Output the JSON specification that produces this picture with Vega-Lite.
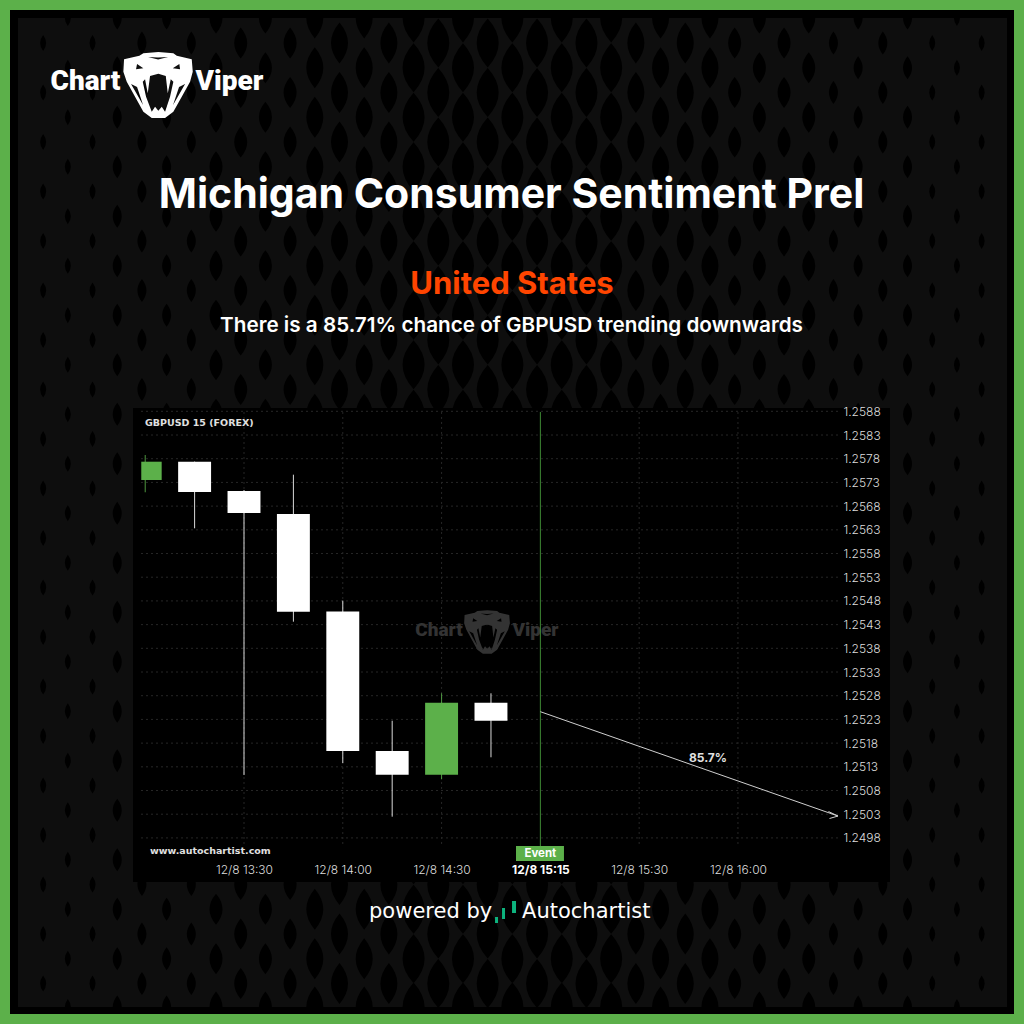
{
  "$schema": "https://vega.github.io/schema/vega-lite/v6.json",
  "width": 757,
  "height": 474,
  "autosize": {"type": "none"},
  "padding": {"left": 133, "top": 408, "right": 134, "bottom": 142},
  "background": "#5cb04a",
  "config": {"view": {"stroke": null}},
  "title": {
    "text": "Michigan Consumer Sentiment Prel",
    "subtitle": "There is a 85.71% chance of GBPUSD trending downwards",
    "anchor": "middle",
    "frame": "group",
    "offset": -327,
    "color": "#ffffff",
    "font": "Inter",
    "fontSize": 41,
    "fontWeight": 700,
    "subtitleColor": "#ffffff",
    "subtitleFont": "Inter",
    "subtitleFontSize": 20.7,
    "subtitleFontWeight": 600,
    "subtitlePadding": 99
  },
  "datasets": {
    "candles": [
      {"t": "2023-12-08T13:00:00Z", "start": "2023-12-08T12:58:48Z", "end": "2023-12-08T13:05:00Z", "dir": "up", "open": 1.257351, "high": 1.257878, "low": 1.257092, "close": 1.257737},
      {"t": "2023-12-08T13:15:00Z", "start": "2023-12-08T13:10:00Z", "end": "2023-12-08T13:20:00Z", "dir": "down", "open": 1.257737, "high": 1.25774, "low": 1.256332, "close": 1.257098},
      {"t": "2023-12-08T13:30:00Z", "start": "2023-12-08T13:25:00Z", "end": "2023-12-08T13:35:00Z", "dir": "down", "open": 1.257119, "high": 1.25714, "low": 1.251127, "close": 1.256655},
      {"t": "2023-12-08T13:45:00Z", "start": "2023-12-08T13:40:00Z", "end": "2023-12-08T13:50:00Z", "dir": "down", "open": 1.256634, "high": 1.257463, "low": 1.254362, "close": 1.254573},
      {"t": "2023-12-08T14:00:00Z", "start": "2023-12-08T13:55:00Z", "end": "2023-12-08T14:05:00Z", "dir": "down", "open": 1.254577, "high": 1.254805, "low": 1.251381, "close": 1.251634},
      {"t": "2023-12-08T14:15:00Z", "start": "2023-12-08T14:10:00Z", "end": "2023-12-08T14:20:00Z", "dir": "down", "open": 1.251634, "high": 1.252273, "low": 1.250248, "close": 1.251134},
      {"t": "2023-12-08T14:30:00Z", "start": "2023-12-08T14:25:00Z", "end": "2023-12-08T14:35:00Z", "dir": "up", "open": 1.251134, "high": 1.252851, "low": 1.251037, "close": 1.252653},
      {"t": "2023-12-08T14:45:00Z", "start": "2023-12-08T14:40:00Z", "end": "2023-12-08T14:50:00Z", "dir": "down", "open": 1.252653, "high": 1.252851, "low": 1.251501, "close": 1.252273}
    ],
    "event": [
      {"t": "2023-12-08T15:00:00Z", "label": "Event", "start": "2023-12-08T14:52:36Z", "end": "2023-12-08T15:07:10Z", "lineTop": 1.258786, "lineBottom": 1.24963, "boxBottom": 1.249313, "labelAt": 1.249461}
    ],
    "forecast": [
      {"t": "2023-12-08T15:00:00Z", "price": 1.252463},
      {"t": "2023-12-08T16:30:23Z", "price": 1.250262}
    ],
    "timeGrid": [
      {"t": "2023-12-08T13:30:00Z"},
      {"t": "2023-12-08T14:00:00Z"},
      {"t": "2023-12-08T14:30:00Z"},
      {"t": "2023-12-08T15:30:00Z"},
      {"t": "2023-12-08T16:00:00Z"}
    ],
    "priceGrid": [
      {"p": 1.2498}, {"p": 1.2503}, {"p": 1.2508}, {"p": 1.2513}, {"p": 1.2518},
      {"p": 1.2523}, {"p": 1.2528}, {"p": 1.2533}, {"p": 1.2538}, {"p": 1.2543},
      {"p": 1.2548}, {"p": 1.2553}, {"p": 1.2558}, {"p": 1.2563}, {"p": 1.2568},
      {"p": 1.2573}, {"p": 1.2578}, {"p": 1.2583}, {"p": 1.2588}
    ],
    "pattern": [
      {"t": "2023-12-08T12:29:00Z", "c": "e1"}, {"t": "2023-12-08T12:36:30Z", "c": "o1"},
      {"t": "2023-12-08T12:44:00Z", "c": "e1"}, {"t": "2023-12-08T12:51:30Z", "c": "o2"},
      {"t": "2023-12-08T12:59:00Z", "c": "e2"}, {"t": "2023-12-08T13:06:30Z", "c": "o2"},
      {"t": "2023-12-08T13:14:00Z", "c": "e2"}, {"t": "2023-12-08T13:21:30Z", "c": "o3"},
      {"t": "2023-12-08T13:29:00Z", "c": "e3"}, {"t": "2023-12-08T13:36:30Z", "c": "o3"},
      {"t": "2023-12-08T13:44:00Z", "c": "e3"}, {"t": "2023-12-08T13:51:30Z", "c": "o4"},
      {"t": "2023-12-08T13:59:00Z", "c": "e4"}, {"t": "2023-12-08T14:06:30Z", "c": "o4"},
      {"t": "2023-12-08T14:14:00Z", "c": "e4"}, {"t": "2023-12-08T14:21:30Z", "c": "o5"},
      {"t": "2023-12-08T14:29:00Z", "c": "e5"}, {"t": "2023-12-08T14:36:30Z", "c": "o5"},
      {"t": "2023-12-08T14:44:00Z", "c": "e5"}, {"t": "2023-12-08T14:51:30Z", "c": "o5"},
      {"t": "2023-12-08T14:59:00Z", "c": "e5"}, {"t": "2023-12-08T15:06:30Z", "c": "o5"},
      {"t": "2023-12-08T15:14:00Z", "c": "e5"}, {"t": "2023-12-08T15:21:30Z", "c": "o5"},
      {"t": "2023-12-08T15:29:00Z", "c": "e4"}, {"t": "2023-12-08T15:36:30Z", "c": "o4"},
      {"t": "2023-12-08T15:44:00Z", "c": "e4"}, {"t": "2023-12-08T15:51:30Z", "c": "o4"},
      {"t": "2023-12-08T15:59:00Z", "c": "e3"}, {"t": "2023-12-08T16:06:30Z", "c": "o3"},
      {"t": "2023-12-08T16:14:00Z", "c": "e3"}, {"t": "2023-12-08T16:21:30Z", "c": "o3"},
      {"t": "2023-12-08T16:29:00Z", "c": "e2"}, {"t": "2023-12-08T16:36:30Z", "c": "o2"},
      {"t": "2023-12-08T16:44:00Z", "c": "e2"}, {"t": "2023-12-08T16:51:30Z", "c": "o2"},
      {"t": "2023-12-08T16:59:00Z", "c": "e1"}, {"t": "2023-12-08T17:06:30Z", "c": "o1"},
      {"t": "2023-12-08T17:14:00Z", "c": "e1"}
    ]
  },
  "layer": [
    {
      "data": {"values": [{}]},
      "mark": {"type": "rect", "color": "#000000"},
      "encoding": {
        "x": {
          "datum": 1702037936380, "type": "temporal",
          "scale": {"type": "utc", "domain": [1702040177500, 1702053970500], "nice": false},
          "axis": {
            "orient": "bottom", "title": null, "offset": -20, "domain": false, "ticks": false, "grid": false, "zindex": 1,
            "values": [1702042200000, 1702044000000, 1702045800000, 1702047600000, 1702049400000, 1702051200000],
            "labelExpr": "time(datum.value) == 1702047600000 ? '12/8 15:15' : utcFormat(datum.value, '%-m/%-d %H:%M')",
            "labelFont": "Inter", "labelFontSize": 12, "labelPadding": 2, "labelOverlap": false, "labelFlush": false, "labelBound": false,
            "labelFontWeight": {"condition": {"test": "time(datum.value) == 1702047600000", "value": "bold"}, "value": 300},
            "labelColor": {"condition": {"test": "time(datum.value) == 1702047600000", "value": "#ffffff"}, "value": "#dddddd"}
          }
        },
        "x2": {"datum": 1702056229862},
        "y": {
          "datum": 1.267267, "type": "quantitative",
          "scale": {"domain": [1.24887, 1.25887], "nice": false, "zero": false},
          "axis": {
            "orient": "right", "title": null, "offset": -53, "domain": false, "ticks": false, "grid": false, "zindex": 1, "tickCount": 100,
            "values": [1.2498, 1.2503, 1.2508, 1.2513, 1.2518, 1.2523, 1.2528, 1.2533, 1.2538, 1.2543, 1.2548, 1.2553, 1.2558, 1.2563, 1.2568, 1.2573, 1.2578, 1.2583, 1.2588],
            "format": ".4f", "labelFont": "Inter", "labelFontSize": 12, "labelFontWeight": 300, "labelColor": "#dddddd", "labelPadding": 6, "labelOverlap": false, "labelFlush": false, "labelBound": false
          }
        },
        "y2": {"datum": 1.246085}
      }
    },
    {
      "data": {"values": [{}]},
      "mark": {"type": "rect", "color": "#0e0e0e"},
      "encoding": {
        "x": {"datum": 1702038082144, "type": "temporal"},
        "x2": {"datum": 1702056102318},
        "y": {"datum": 1.267098, "type": "quantitative"},
        "y2": {"datum": 1.246233}
      }
    },
    {
      "data": {"name": "pattern"},
      "transform": [{"filter": "datum.c == 'e1'"}],
      "mark": {"type": "point", "filled": true, "color": "#000000", "opacity": 1, "size": 4,
        "shape": "M0,17q-6,8 0,16q6,-8 0,-16zm0,49.5q-6,8 0,16q6,-8 0,-16zm0,49.5q-6,8 0,16q6,-8 0,-16zm0,49.5q-6,8 0,16q6,-8 0,-16zm0,49.5q-6,8 0,16q6,-8 0,-16zm0,49.5q-6,8 0,16q6,-8 0,-16zm0,49.5q-6,8 0,16q6,-8 0,-16zm0,49.5q-6,8 0,16q6,-8 0,-16zm0,49.5q-6,8 0,16q6,-8 0,-16zm0,49.5q-6,8 0,16q6,-8 0,-16zm0,49.5q-6,8 0,16q6,-8 0,-16zm0,49.5q-6,8 0,16q6,-8 0,-16zm0,49.5q-6,8 0,16q6,-8 0,-16zm0,49.5q-6,8 0,16q6,-8 0,-16zm0,49.5q-6,8 0,16q6,-8 0,-16zm0,49.5q-6,8 0,16q6,-8 0,-16zm0,49.5q-6,8 0,16q6,-8 0,-16zm0,49.5q-6,8 0,16q6,-8 0,-16zm0,49.5q-6,8 0,16q6,-8 0,-16zm0,49.5q-6,8 0,16q6,-8 0,-16z"},
      "encoding": {"x": {"field": "t", "type": "temporal"}, "y": {"datum": 1.267098, "type": "quantitative"}}
    },
    {
      "data": {"name": "pattern"},
      "transform": [{"filter": "datum.c == 'o1'"}],
      "mark": {"type": "point", "filled": true, "color": "#000000", "opacity": 1, "size": 4,
        "shape": "M-3,0Q-3,4 0,8Q3,4 3,0ZM0,41.7q-6,8 0,16q6,-8 0,-16zm0,49.5q-6,8 0,16q6,-8 0,-16zm0,49.5q-6,8 0,16q6,-8 0,-16zm0,49.5q-6,8 0,16q6,-8 0,-16zm0,49.5q-6,8 0,16q6,-8 0,-16zm0,49.5q-6,8 0,16q6,-8 0,-16zm0,49.5q-6,8 0,16q6,-8 0,-16zm0,49.5q-6,8 0,16q6,-8 0,-16zm0,49.5q-6,8 0,16q6,-8 0,-16zm0,49.5q-6,8 0,16q6,-8 0,-16zm0,49.5q-6,8 0,16q6,-8 0,-16zm0,49.5q-6,8 0,16q6,-8 0,-16zm0,49.5q-6,8 0,16q6,-8 0,-16zm0,49.5q-6,8 0,16q6,-8 0,-16zm0,49.5q-6,8 0,16q6,-8 0,-16zm0,49.5q-6,8 0,16q6,-8 0,-16zm0,49.5q-6,8 0,16q6,-8 0,-16zm0,49.5q-6,8 0,16q6,-8 0,-16zm0,49.5q-6,8 0,16q6,-8 0,-16zM-3,989Q-3,985 0,981Q3,985 3,989Z"},
      "encoding": {"x": {"field": "t", "type": "temporal"}, "y": {"datum": 1.267098, "type": "quantitative"}}
    },
    {
      "data": {"name": "pattern"},
      "transform": [{"filter": "datum.c == 'e2'"}],
      "mark": {"type": "point", "filled": true, "color": "#000000", "opacity": 1, "size": 4,
        "shape": "M0,13.5q-9,11.5 0,23q9,-11.5 0,-23zm0,49.5q-9,11.5 0,23q9,-11.5 0,-23zm0,49.5q-9,11.5 0,23q9,-11.5 0,-23zm0,49.5q-9,11.5 0,23q9,-11.5 0,-23zm0,49.5q-9,11.5 0,23q9,-11.5 0,-23zm0,49.5q-9,11.5 0,23q9,-11.5 0,-23zm0,49.5q-9,11.5 0,23q9,-11.5 0,-23zm0,49.5q-9,11.5 0,23q9,-11.5 0,-23zm0,49.5q-9,11.5 0,23q9,-11.5 0,-23zm0,49.5q-9,11.5 0,23q9,-11.5 0,-23zm0,49.5q-9,11.5 0,23q9,-11.5 0,-23zm0,49.5q-9,11.5 0,23q9,-11.5 0,-23zm0,49.5q-9,11.5 0,23q9,-11.5 0,-23zm0,49.5q-9,11.5 0,23q9,-11.5 0,-23zm0,49.5q-9,11.5 0,23q9,-11.5 0,-23zm0,49.5q-9,11.5 0,23q9,-11.5 0,-23zm0,49.5q-9,11.5 0,23q9,-11.5 0,-23zm0,49.5q-9,11.5 0,23q9,-11.5 0,-23zm0,49.5q-9,11.5 0,23q9,-11.5 0,-23zm0,49.5q-9,11.5 0,23q9,-11.5 0,-23z"},
      "encoding": {"x": {"field": "t", "type": "temporal"}, "y": {"datum": 1.267098, "type": "quantitative"}}
    },
    {
      "data": {"name": "pattern"},
      "transform": [{"filter": "datum.c == 'o2'"}],
      "mark": {"type": "point", "filled": true, "color": "#000000", "opacity": 1, "size": 4,
        "shape": "M-4.5,0Q-4.5,5.7 0,11.5Q4.5,5.7 4.5,0ZM0,38.2q-9,11.5 0,23q9,-11.5 0,-23zm0,49.5q-9,11.5 0,23q9,-11.5 0,-23zm0,49.5q-9,11.5 0,23q9,-11.5 0,-23zm0,49.5q-9,11.5 0,23q9,-11.5 0,-23zm0,49.5q-9,11.5 0,23q9,-11.5 0,-23zm0,49.5q-9,11.5 0,23q9,-11.5 0,-23zm0,49.5q-9,11.5 0,23q9,-11.5 0,-23zm0,49.5q-9,11.5 0,23q9,-11.5 0,-23zm0,49.5q-9,11.5 0,23q9,-11.5 0,-23zm0,49.5q-9,11.5 0,23q9,-11.5 0,-23zm0,49.5q-9,11.5 0,23q9,-11.5 0,-23zm0,49.5q-9,11.5 0,23q9,-11.5 0,-23zm0,49.5q-9,11.5 0,23q9,-11.5 0,-23zm0,49.5q-9,11.5 0,23q9,-11.5 0,-23zm0,49.5q-9,11.5 0,23q9,-11.5 0,-23zm0,49.5q-9,11.5 0,23q9,-11.5 0,-23zm0,49.5q-9,11.5 0,23q9,-11.5 0,-23zm0,49.5q-9,11.5 0,23q9,-11.5 0,-23zm0,49.5q-9,11.5 0,23q9,-11.5 0,-23zM-4.5,989Q-4.5,983.3 0,977.5Q4.5,983.3 4.5,989Z"},
      "encoding": {"x": {"field": "t", "type": "temporal"}, "y": {"datum": 1.267098, "type": "quantitative"}}
    },
    {
      "data": {"name": "pattern"},
      "transform": [{"filter": "datum.c == 'e3'"}],
      "mark": {"type": "point", "filled": true, "color": "#000000", "opacity": 1, "size": 4,
        "shape": "M0,9.5q-13,15.5 0,31q13,-15.5 0,-31zm0,49.5q-13,15.5 0,31q13,-15.5 0,-31zm0,49.5q-13,15.5 0,31q13,-15.5 0,-31zm0,49.5q-13,15.5 0,31q13,-15.5 0,-31zm0,49.5q-13,15.5 0,31q13,-15.5 0,-31zm0,49.5q-13,15.5 0,31q13,-15.5 0,-31zm0,49.5q-13,15.5 0,31q13,-15.5 0,-31zm0,49.5q-13,15.5 0,31q13,-15.5 0,-31zm0,49.5q-13,15.5 0,31q13,-15.5 0,-31zm0,49.5q-13,15.5 0,31q13,-15.5 0,-31zm0,49.5q-13,15.5 0,31q13,-15.5 0,-31zm0,49.5q-13,15.5 0,31q13,-15.5 0,-31zm0,49.5q-13,15.5 0,31q13,-15.5 0,-31zm0,49.5q-13,15.5 0,31q13,-15.5 0,-31zm0,49.5q-13,15.5 0,31q13,-15.5 0,-31zm0,49.5q-13,15.5 0,31q13,-15.5 0,-31zm0,49.5q-13,15.5 0,31q13,-15.5 0,-31zm0,49.5q-13,15.5 0,31q13,-15.5 0,-31zm0,49.5q-13,15.5 0,31q13,-15.5 0,-31zm0,49.5q-13,15.5 0,31q13,-15.5 0,-31z"},
      "encoding": {"x": {"field": "t", "type": "temporal"}, "y": {"datum": 1.267098, "type": "quantitative"}}
    },
    {
      "data": {"name": "pattern"},
      "transform": [{"filter": "datum.c == 'o3'"}],
      "mark": {"type": "point", "filled": true, "color": "#000000", "opacity": 1, "size": 4,
        "shape": "M-6.5,0Q-6.5,7.7 0,15.5Q6.5,7.7 6.5,0ZM0,34.2q-13,15.5 0,31q13,-15.5 0,-31zm0,49.5q-13,15.5 0,31q13,-15.5 0,-31zm0,49.5q-13,15.5 0,31q13,-15.5 0,-31zm0,49.5q-13,15.5 0,31q13,-15.5 0,-31zm0,49.5q-13,15.5 0,31q13,-15.5 0,-31zm0,49.5q-13,15.5 0,31q13,-15.5 0,-31zm0,49.5q-13,15.5 0,31q13,-15.5 0,-31zm0,49.5q-13,15.5 0,31q13,-15.5 0,-31zm0,49.5q-13,15.5 0,31q13,-15.5 0,-31zm0,49.5q-13,15.5 0,31q13,-15.5 0,-31zm0,49.5q-13,15.5 0,31q13,-15.5 0,-31zm0,49.5q-13,15.5 0,31q13,-15.5 0,-31zm0,49.5q-13,15.5 0,31q13,-15.5 0,-31zm0,49.5q-13,15.5 0,31q13,-15.5 0,-31zm0,49.5q-13,15.5 0,31q13,-15.5 0,-31zm0,49.5q-13,15.5 0,31q13,-15.5 0,-31zm0,49.5q-13,15.5 0,31q13,-15.5 0,-31zm0,49.5q-13,15.5 0,31q13,-15.5 0,-31zm0,49.5q-13,15.5 0,31q13,-15.5 0,-31zM-6.5,989Q-6.5,981.3 0,973.5Q6.5,981.3 6.5,989Z"},
      "encoding": {"x": {"field": "t", "type": "temporal"}, "y": {"datum": 1.267098, "type": "quantitative"}}
    },
    {
      "data": {"name": "pattern"},
      "transform": [{"filter": "datum.c == 'e4'"}],
      "mark": {"type": "point", "filled": true, "color": "#000000", "opacity": 1, "size": 4,
        "shape": "M0,4.5q-17,20.5 0,41q17,-20.5 0,-41zm0,49.5q-17,20.5 0,41q17,-20.5 0,-41zm0,49.5q-17,20.5 0,41q17,-20.5 0,-41zm0,49.5q-17,20.5 0,41q17,-20.5 0,-41zm0,49.5q-17,20.5 0,41q17,-20.5 0,-41zm0,49.5q-17,20.5 0,41q17,-20.5 0,-41zm0,49.5q-17,20.5 0,41q17,-20.5 0,-41zm0,49.5q-17,20.5 0,41q17,-20.5 0,-41zm0,49.5q-17,20.5 0,41q17,-20.5 0,-41zm0,49.5q-17,20.5 0,41q17,-20.5 0,-41zm0,49.5q-17,20.5 0,41q17,-20.5 0,-41zm0,49.5q-17,20.5 0,41q17,-20.5 0,-41zm0,49.5q-17,20.5 0,41q17,-20.5 0,-41zm0,49.5q-17,20.5 0,41q17,-20.5 0,-41zm0,49.5q-17,20.5 0,41q17,-20.5 0,-41zm0,49.5q-17,20.5 0,41q17,-20.5 0,-41zm0,49.5q-17,20.5 0,41q17,-20.5 0,-41zm0,49.5q-17,20.5 0,41q17,-20.5 0,-41zm0,49.5q-17,20.5 0,41q17,-20.5 0,-41zm0,49.5q-17,20.5 0,41q17,-20.5 0,-41z"},
      "encoding": {"x": {"field": "t", "type": "temporal"}, "y": {"datum": 1.267098, "type": "quantitative"}}
    },
    {
      "data": {"name": "pattern"},
      "transform": [{"filter": "datum.c == 'o4'"}],
      "mark": {"type": "point", "filled": true, "color": "#000000", "opacity": 1, "size": 4,
        "shape": "M-8.5,0Q-8.5,10 0,20.5Q8.5,10 8.5,0ZM0,29.2q-17,20.5 0,41q17,-20.5 0,-41zm0,49.5q-17,20.5 0,41q17,-20.5 0,-41zm0,49.5q-17,20.5 0,41q17,-20.5 0,-41zm0,49.5q-17,20.5 0,41q17,-20.5 0,-41zm0,49.5q-17,20.5 0,41q17,-20.5 0,-41zm0,49.5q-17,20.5 0,41q17,-20.5 0,-41zm0,49.5q-17,20.5 0,41q17,-20.5 0,-41zm0,49.5q-17,20.5 0,41q17,-20.5 0,-41zm0,49.5q-17,20.5 0,41q17,-20.5 0,-41zm0,49.5q-17,20.5 0,41q17,-20.5 0,-41zm0,49.5q-17,20.5 0,41q17,-20.5 0,-41zm0,49.5q-17,20.5 0,41q17,-20.5 0,-41zm0,49.5q-17,20.5 0,41q17,-20.5 0,-41zm0,49.5q-17,20.5 0,41q17,-20.5 0,-41zm0,49.5q-17,20.5 0,41q17,-20.5 0,-41zm0,49.5q-17,20.5 0,41q17,-20.5 0,-41zm0,49.5q-17,20.5 0,41q17,-20.5 0,-41zm0,49.5q-17,20.5 0,41q17,-20.5 0,-41zm0,49.5q-17,20.5 0,41q17,-20.5 0,-41zM-8.5,989Q-8.5,979 0,968.5Q8.5,979 8.5,989Z"},
      "encoding": {"x": {"field": "t", "type": "temporal"}, "y": {"datum": 1.267098, "type": "quantitative"}}
    },
    {
      "data": {"name": "pattern"},
      "transform": [{"filter": "datum.c == 'e5'"}],
      "mark": {"type": "point", "filled": true, "color": "#000000", "opacity": 1, "size": 4,
        "shape": "M0,0.5q-22,24.5 0,49q22,-24.5 0,-49zm0,49.5q-22,24.5 0,49q22,-24.5 0,-49zm0,49.5q-22,24.5 0,49q22,-24.5 0,-49zm0,49.5q-22,24.5 0,49q22,-24.5 0,-49zm0,49.5q-22,24.5 0,49q22,-24.5 0,-49zm0,49.5q-22,24.5 0,49q22,-24.5 0,-49zm0,49.5q-22,24.5 0,49q22,-24.5 0,-49zm0,49.5q-22,24.5 0,49q22,-24.5 0,-49zm0,49.5q-22,24.5 0,49q22,-24.5 0,-49zm0,49.5q-22,24.5 0,49q22,-24.5 0,-49zm0,49.5q-22,24.5 0,49q22,-24.5 0,-49zm0,49.5q-22,24.5 0,49q22,-24.5 0,-49zm0,49.5q-22,24.5 0,49q22,-24.5 0,-49zm0,49.5q-22,24.5 0,49q22,-24.5 0,-49zm0,49.5q-22,24.5 0,49q22,-24.5 0,-49zm0,49.5q-22,24.5 0,49q22,-24.5 0,-49zm0,49.5q-22,24.5 0,49q22,-24.5 0,-49zm0,49.5q-22,24.5 0,49q22,-24.5 0,-49zm0,49.5q-22,24.5 0,49q22,-24.5 0,-49zm0,49.5q-22,24.5 0,49q22,-24.5 0,-49z"},
      "encoding": {"x": {"field": "t", "type": "temporal"}, "y": {"datum": 1.267098, "type": "quantitative"}}
    },
    {
      "data": {"name": "pattern"},
      "transform": [{"filter": "datum.c == 'o5'"}],
      "mark": {"type": "point", "filled": true, "color": "#000000", "opacity": 1, "size": 4,
        "shape": "M-11,0Q-11,12 0,24.5Q11,12 11,0ZM0,25.2q-22,24.5 0,49q22,-24.5 0,-49zm0,49.5q-22,24.5 0,49q22,-24.5 0,-49zm0,49.5q-22,24.5 0,49q22,-24.5 0,-49zm0,49.5q-22,24.5 0,49q22,-24.5 0,-49zm0,49.5q-22,24.5 0,49q22,-24.5 0,-49zm0,49.5q-22,24.5 0,49q22,-24.5 0,-49zm0,49.5q-22,24.5 0,49q22,-24.5 0,-49zm0,49.5q-22,24.5 0,49q22,-24.5 0,-49zm0,49.5q-22,24.5 0,49q22,-24.5 0,-49zm0,49.5q-22,24.5 0,49q22,-24.5 0,-49zm0,49.5q-22,24.5 0,49q22,-24.5 0,-49zm0,49.5q-22,24.5 0,49q22,-24.5 0,-49zm0,49.5q-22,24.5 0,49q22,-24.5 0,-49zm0,49.5q-22,24.5 0,49q22,-24.5 0,-49zm0,49.5q-22,24.5 0,49q22,-24.5 0,-49zm0,49.5q-22,24.5 0,49q22,-24.5 0,-49zm0,49.5q-22,24.5 0,49q22,-24.5 0,-49zm0,49.5q-22,24.5 0,49q22,-24.5 0,-49zm0,49.5q-22,24.5 0,49q22,-24.5 0,-49zM-11,989Q-11,977 0,964.5Q11,977 11,989Z"},
      "encoding": {"x": {"field": "t", "type": "temporal"}, "y": {"datum": 1.267098, "type": "quantitative"}}
    },
    {
      "data": {"values": [{}]},
      "mark": {"type": "rect", "color": "#000000"},
      "encoding": {
        "x": {"datum": 1702040177500, "type": "temporal"},
        "x2": {"datum": 1702053970500},
        "y": {"datum": 1.25887, "type": "quantitative"},
        "y2": {"datum": 1.24887}
      }
    },
    {
      "data": {"name": "priceGrid"},
      "mark": {"type": "rule", "color": "#262626", "strokeWidth": 1, "strokeDash": [2, 3]},
      "encoding": {
        "x": {"datum": 1702040323278, "type": "temporal"},
        "x2": {"datum": 1702053059478},
        "y": {"field": "p", "type": "quantitative"}
      }
    },
    {
      "data": {"name": "timeGrid"},
      "mark": {"type": "rule", "color": "#262626", "strokeWidth": 1, "strokeDash": [2, 3]},
      "encoding": {
        "x": {"field": "t", "type": "temporal"},
        "y": {"datum": 1.258786, "type": "quantitative"},
        "y2": {"datum": 1.24963}
      }
    },
    {
      "data": {"values": [
        {"label": "Chart", "t": "2023-12-08T14:29:13Z", "p": 1.254186},
        {"label": "Viper", "t": "2023-12-08T14:58:31Z", "p": 1.254186}
      ]},
      "mark": {"type": "text", "font": "Roboto", "fontWeight": 900, "fontSize": 19, "color": "#333333", "baseline": "middle"},
      "encoding": {
        "x": {"field": "t", "type": "temporal"},
        "y": {"field": "p", "type": "quantitative"},
        "text": {"field": "label"}
      }
    },
    {
      "data": {"values": [{"t": "2023-12-08T14:43:48Z", "p": 1.254102}]},
      "mark": {
        "type": "point", "filled": true, "color": "#333333", "opacity": 1, "size": 1.74,
        "shape": "M-34,-28.7L-18.7,-32.3L-14.7,-34.7L0.3,-36L15.3,-34.7L18.7,-32.3L33.7,-28.7L34.7,-16.3L32,-6.3L23.7,8.7L15.3,23.7L7,30L-6.3,30L-14.7,23.7L-23,8.7L-31.3,-6.3L-34.7,-16.3ZM-8,-12L-10.3,5.3L-13,-8.7L-15.3,-6.3L-12,8.7L-6.3,23.7L-3,18.7L0.3,22.7L3.7,18.7L7,23.7L12,8.7L15.3,-6.3L12.7,-8.7L9.7,5.3L7.7,-12L0.3,-14.3ZM-21,-24L-22,-18.7L-14.7,-19.7ZM21.3,-24L14.7,-19.7L22,-18.7ZM-10,-31L0,-28.5L10,-31L0,-30.5ZM-27,-4L-15,17L-21,-1ZM27,-4L21,-1L15,17Z"
      },
      "encoding": {
        "x": {"field": "t", "type": "temporal"},
        "y": {"field": "p", "type": "quantitative"}
      }
    },
    {
      "data": {"name": "candles"},
      "mark": {"type": "rule", "strokeWidth": 1, "opacity": 0.85},
      "encoding": {
        "x": {"field": "t", "type": "temporal"},
        "y": {"field": "low", "type": "quantitative"},
        "y2": {"field": "high"},
        "color": {"field": "dir", "type": "nominal", "legend": null, "scale": {"domain": ["up", "down"], "range": ["#5cb04a", "#ffffff"]}}
      }
    },
    {
      "data": {"name": "candles"},
      "mark": {"type": "rect"},
      "encoding": {
        "x": {"field": "start", "type": "temporal"},
        "x2": {"field": "end"},
        "y": {"field": "open", "type": "quantitative"},
        "y2": {"field": "close"},
        "color": {"field": "dir", "type": "nominal", "legend": null}
      }
    },
    {
      "data": {"name": "event"},
      "mark": {"type": "rule", "color": "#3f8a35", "strokeWidth": 1},
      "encoding": {
        "x": {"field": "t", "type": "temporal"},
        "y": {"field": "lineTop", "type": "quantitative"},
        "y2": {"field": "lineBottom"}
      }
    },
    {
      "data": {"name": "event"},
      "mark": {"type": "rect", "color": "#5cb04a"},
      "encoding": {
        "x": {"field": "start", "type": "temporal"},
        "x2": {"field": "end"},
        "y": {"field": "lineBottom", "type": "quantitative"},
        "y2": {"field": "boxBottom"}
      }
    },
    {
      "data": {"name": "event"},
      "mark": {"type": "text", "font": "Inter", "fontWeight": 700, "fontSize": 11.5, "color": "#ffffff", "baseline": "middle"},
      "encoding": {
        "x": {"field": "t", "type": "temporal"},
        "y": {"field": "labelAt", "type": "quantitative"},
        "text": {"field": "label"}
      }
    },
    {
      "data": {"name": "forecast"},
      "mark": {"type": "line", "color": "#cfcfcf", "strokeWidth": 1},
      "encoding": {
        "x": {"field": "t", "type": "temporal"},
        "y": {"field": "price", "type": "quantitative"}
      }
    },
    {
      "data": {"values": [{"t": "2023-12-08T16:30:23Z", "price": 1.250262}]},
      "mark": {"type": "point", "filled": false, "color": "#cfcfcf", "opacity": 1, "strokeWidth": 1, "size": 4, "shape": "M-9.5,-4.5L0,0L-8.5,2.5"},
      "encoding": {
        "x": {"field": "t", "type": "temporal"},
        "y": {"field": "price", "type": "quantitative"}
      }
    },
    {
      "data": {"values": [{"label": "85.7%", "t": "2023-12-08T15:50:54Z", "p": 1.251486}]},
      "mark": {"type": "text", "font": "Inter", "fontWeight": 700, "fontSize": 12, "color": "#e0e0e0", "baseline": "middle"},
      "encoding": {
        "x": {"field": "t", "type": "temporal"},
        "y": {"field": "p", "type": "quantitative"},
        "text": {"field": "label"}
      }
    },
    {
      "data": {"values": [
        {"label": "GBPUSD 15 (FOREX)", "t": "2023-12-08T12:59:56Z", "p": 1.258554},
        {"label": "www.autochartist.com", "t": "2023-12-08T13:01:27Z", "p": 1.249524}
      ]},
      "mark": {"type": "text", "font": "DejaVu Sans", "fontWeight": "bold", "fontSize": 9.5, "color": "#e0e0e0", "align": "left", "baseline": "middle"},
      "encoding": {
        "x": {"field": "t", "type": "temporal"},
        "y": {"field": "p", "type": "quantitative"},
        "text": {"field": "label"}
      }
    },
    {
      "data": {"values": [{"label": "United States", "t": "2023-12-08T14:51:23Z", "p": 1.261465}]},
      "mark": {"type": "text", "font": "Inter", "fontWeight": 700, "fontSize": 31, "color": "#ff4500", "baseline": "middle"},
      "encoding": {
        "x": {"field": "t", "type": "temporal"},
        "y": {"field": "p", "type": "quantitative"},
        "text": {"field": "label"}
      }
    },
    {
      "data": {"values": [
        {"label": "Chart", "t": "2023-12-08T12:41:52Z", "p": 1.265748},
        {"label": "Viper", "t": "2023-12-08T13:25:36Z", "p": 1.265748}
      ]},
      "mark": {"type": "text", "font": "Roboto", "fontWeight": 900, "fontSize": 28, "color": "#ffffff", "baseline": "middle"},
      "encoding": {
        "x": {"field": "t", "type": "temporal"},
        "y": {"field": "p", "type": "quantitative"},
        "text": {"field": "label"}
      }
    },
    {
      "data": {"values": [{"t": "2023-12-08T13:03:54Z", "p": 1.265621}]},
      "mark": {
        "type": "point", "filled": true, "color": "#ffffff", "opacity": 1, "size": 4,
        "shape": "M-34,-28.7L-18.7,-32.3L-14.7,-34.7L0.3,-36L15.3,-34.7L18.7,-32.3L33.7,-28.7L34.7,-16.3L32,-6.3L23.7,8.7L15.3,23.7L7,30L-6.3,30L-14.7,23.7L-23,8.7L-31.3,-6.3L-34.7,-16.3ZM-8,-12L-10.3,5.3L-13,-8.7L-15.3,-6.3L-12,8.7L-6.3,23.7L-3,18.7L0.3,22.7L3.7,18.7L7,23.7L12,8.7L15.3,-6.3L12.7,-8.7L9.7,5.3L7.7,-12L0.3,-14.3ZM-21,-24L-22,-18.7L-14.7,-19.7ZM21.3,-24L14.7,-19.7L22,-18.7ZM-10,-31L0,-28.5L10,-31L0,-30.5ZM-27,-4L-15,17L-21,-1ZM27,-4L21,-1L15,17Z"
      },
      "encoding": {
        "x": {"field": "t", "type": "temporal"},
        "y": {"field": "p", "type": "quantitative"}
      }
    },
    {
      "data": {"values": [
        {"label": "powered by", "t": "2023-12-08T14:07:58Z", "p": 1.248237},
        {"label": "Autochartist", "t": "2023-12-08T14:54:26Z", "p": 1.248237}
      ]},
      "mark": {"type": "text", "font": "DejaVu Sans", "fontSize": 21, "color": "#ffffff", "align": "left", "baseline": "middle"},
      "encoding": {
        "x": {"field": "t", "type": "temporal"},
        "y": {"field": "p", "type": "quantitative"},
        "text": {"field": "label"}
      }
    },
    {
      "data": {"values": [{"t": "2023-12-08T14:49:16Z", "p": 1.248237}]},
      "mark": {"type": "point", "filled": true, "color": "#0db37e", "opacity": 1, "size": 4, "shape": "M-10,5h3v6h-3ZM-3,-4h3v11h-3ZM7,-11h4v12h-4Z"},
      "encoding": {
        "x": {"field": "t", "type": "temporal"},
        "y": {"field": "p", "type": "quantitative"}
      }
    }
  ]
}
